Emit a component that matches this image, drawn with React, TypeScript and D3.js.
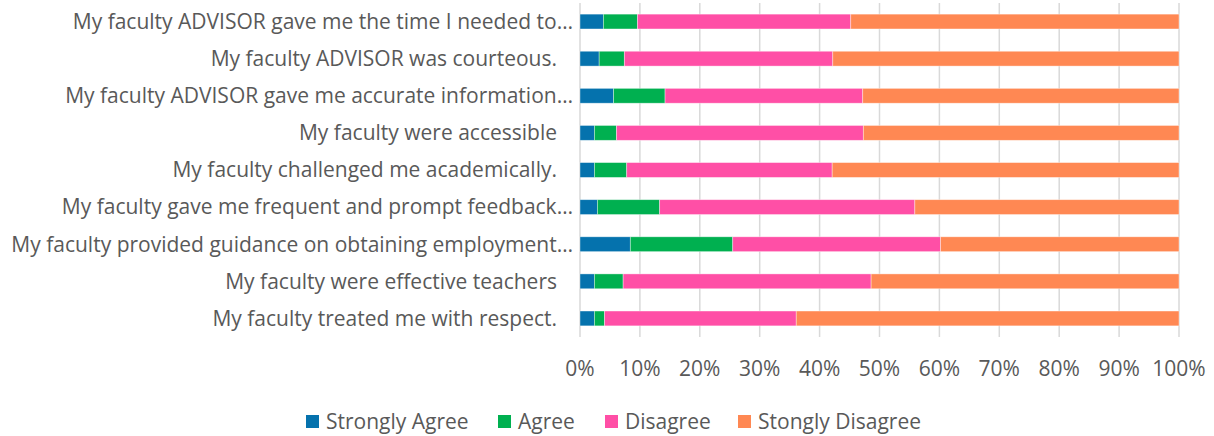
import React, { useEffect } from 'react';
import * as d3 from 'd3';

const categories = [
  'My faculty ADVISOR gave me the time I needed to…',
  'My faculty ADVISOR was courteous.',
  'My faculty ADVISOR gave me accurate information…',
  'My faculty were accessible',
  'My faculty challenged me academically.',
  'My faculty gave me frequent and prompt feedback…',
  'My faculty provided guidance on obtaining employment…',
  'My faculty were effective teachers',
  'My faculty treated me with respect.',
];

const seriesNames = ['Strongly Agree', 'Agree', 'Disagree', 'Stongly Disagree'];

// percentages per category, same order as categories
const stronglyAgree = [3.9, 3.2, 5.6, 2.4, 2.4, 2.9, 8.4, 2.4, 2.4];
const agree = [5.7, 4.2, 8.6, 3.7, 5.4, 10.4, 17.1, 4.8, 1.7];
const disagree = [35.6, 34.8, 33.0, 41.2, 34.3, 42.6, 34.7, 41.4, 32.0];
const stronglyDisagree = [54.8, 57.8, 52.8, 52.7, 57.9, 44.1, 39.8, 51.4, 63.9];

const tickValues = [0, 10, 20, 30, 40, 50, 60, 70, 80, 90, 100];

const colors = ['#0572AD', '#00B050', '#FF4FA6', '#FF8853'];

const W = 1214;
const H = 436;
const font = '"Open Sans", sans-serif';
const textColor = '#595959';

export default function App() {
  useEffect(() => {
    document.body.style.margin = '0';
  }, []);

  const rows = categories.map((c, i) => ({
    cat: c,
    [seriesNames[0]]: stronglyAgree[i],
    [seriesNames[1]]: agree[i],
    [seriesNames[2]]: disagree[i],
    [seriesNames[3]]: stronglyDisagree[i],
  }));

  const stacked = d3.stack<any>().keys(seriesNames)(rows);

  const x = d3.scaleLinear().domain([0, 100]).range([580, 1179]);
  const y = d3.scaleBand().domain(categories).range([3, 337]).paddingInner(0.6).paddingOuter(0.3);

  // legend layout
  const legendX = [306, 498, 605, 738];

  return (
    <svg width={W} height={H} style={{ display: 'block', background: '#fff' }}>
      {tickValues.map(t => (
        <line key={t} x1={x(t)} x2={x(t)} y1={3} y2={337} stroke="#d9d9d9" strokeWidth={1.5} />
      ))}
      {stacked.map((s, si) => (
        <g key={s.key} fill={colors[si]}>
          {s.map((d, i) => (
            <rect
              key={i}
              x={x(d[0])}
              y={y(categories[i])}
              width={x(d[1]) - x(d[0])}
              height={y.bandwidth()}
              stroke="#fff"
              strokeOpacity={0.5}
              strokeWidth={0.75}
            />
          ))}
        </g>
      ))}
      {categories.map(c => (
        <text
          key={c}
          x={c.endsWith('…') ? 573 : 557}
          y={(y(c) ?? 0) + y.bandwidth() / 2}
          dy="0.35em"
          textAnchor="end"
          fontFamily={font}
          fontSize={21}
          fill={textColor}
        >
          {c}
        </text>
      ))}
      {tickValues.map(t => (
        <text
          key={t}
          x={x(t)}
          y={376}
          textAnchor="middle"
          fontFamily={font}
          fontSize={21}
          fill={textColor}
        >
          {d3.format('.0%')(t / 100)}
        </text>
      ))}
      {seriesNames.map((n, i) => (
        <g key={n} transform={`translate(${legendX[i]},415)`}>
          <rect width={13} height={13} fill={colors[i]} />
          <text x={20} y={14} fontFamily={font} fontSize={21} fill={textColor}>
            {n}
          </text>
        </g>
      ))}
    </svg>
  );
}
